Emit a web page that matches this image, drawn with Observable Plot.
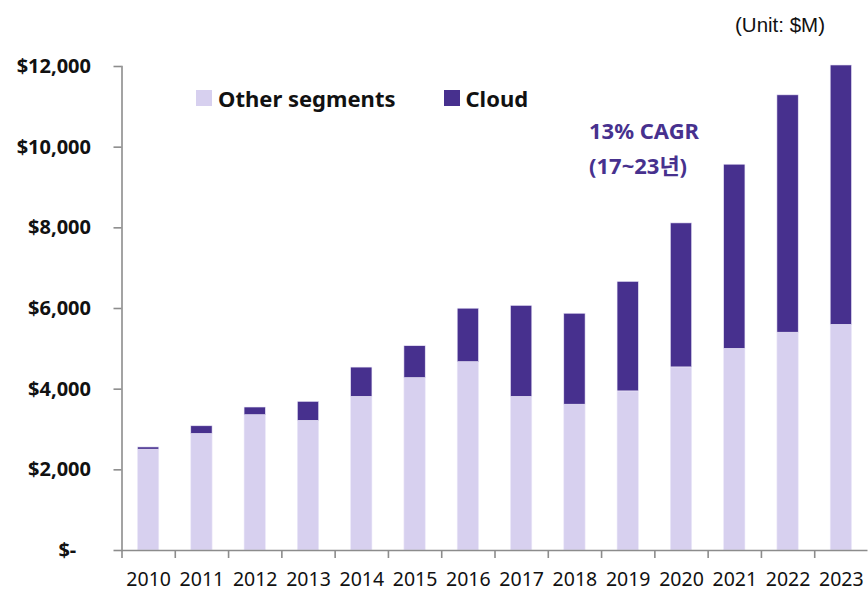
<!DOCTYPE html>
<html><head><meta charset="utf-8">
<script src="https://cdn.jsdelivr.net/npm/d3@7"></script>
<script src="https://cdn.jsdelivr.net/npm/@observablehq/plot@0.6"></script>
<style>
body{margin:0;background:#fff;}
#wrap{position:relative;width:868px;height:593px;font-family:"Noto Sans","Noto Sans CJK KR",sans-serif;overflow:hidden;}
.ov{position:absolute;white-space:nowrap;}
#unit{left:735px;top:11px;font-family:"Liberation Sans",Arial,sans-serif;font-size:20.5px;line-height:28px;color:#111;}
#legend{left:196px;top:83px;font-size:22px;font-weight:bold;color:#111;display:flex;align-items:center;line-height:30px;}
#legend .sw{display:inline-block;width:16px;height:16px;margin-right:6px;}
#legend .it{display:flex;align-items:center;margin-right:48px;}
#cagr{left:589px;top:113px;font-size:22px;font-weight:bold;color:#47318e;line-height:35px;}
</style></head><body><div id="wrap"></div>
<script>
const years = ["2010","2011","2012","2013","2014","2015","2016","2017","2018","2019","2020","2021","2022","2023"];
const otherSegments = [2500, 2890, 3355, 3215, 3810, 4275, 4670, 3810, 3615, 3945, 4540, 5000, 5400, 5595];
const cloud = [55, 190, 190, 470, 725, 790, 1325, 2255, 2255, 2715, 3570, 4565, 5885, 6430];
const seriesNames = ["Other segments", "Cloud"];
const seriesColors = ["#d7d0ef", "#47308e"];
const yTicks = [0, 2000, 4000, 6000, 8000, 10000, 12000];
const unitLabel = "(Unit: $M)";
const cagrLines = ["13% CAGR", "(17~23년)"];

const rows = [];
years.forEach((y, i) => rows.push({year: y, series: seriesNames[0], value: otherSegments[i]}));
years.forEach((y, i) => rows.push({year: y, series: seriesNames[1], value: cloud[i]}));

const W = 868, H = 593, mL = 121.5, mR = 0.5, mT = 66, mB = 43;
const step = (W - mL - mR) / years.length;
const axisColor = "#8c8c8c";
const fmt = d => d === 0 ? "$-\u2007\u2009" : "$" + d3.format(",")(d);

const chart = Plot.plot({
  width: W, height: H,
  marginLeft: mL, marginRight: mR, marginTop: mT, marginBottom: mB,
  style: {fontFamily: '"Noto Sans","Noto Sans CJK KR",sans-serif', background: "#fff", color: "#111"},
  x: {domain: years, paddingInner: 0.6, paddingOuter: 0.3, round: false, label: null},
  y: {domain: [0, 12000], label: null},
  color: {domain: seriesNames, range: seriesColors},
  marks: [
    Plot.barY(rows, {x: "year", y: "value", fill: "series", stroke: "#ece8f8", strokeWidth: 0.6, order: seriesNames}),
    Plot.frame({anchor: "left", stroke: axisColor, strokeWidth: 1.6}),
    Plot.ruleY([0], {stroke: axisColor, strokeWidth: 1.6}),
    Plot.axisY({ticks: yTicks, tickFormat: fmt, tickSize: 8, tickPadding: 23, stroke: axisColor, strokeWidth: 1.6,
      fontSize: 20, fontWeight: "bold", label: null}),
    Plot.axisX({tickSize: 8, dx: -step / 2, text: null, stroke: axisColor, strokeWidth: 1.6, label: null}),
    Plot.axisX({tickSize: 0, tickPadding: 22, fontSize: 19.5, label: null})
  ]
});

const wrap = document.getElementById("wrap");
wrap.appendChild(chart);

const unit = document.createElement("div");
unit.className = "ov"; unit.id = "unit"; unit.textContent = unitLabel;
wrap.appendChild(unit);

const legend = document.createElement("div");
legend.className = "ov"; legend.id = "legend";
seriesNames.forEach((n, i) => {
  const it = document.createElement("span"); it.className = "it";
  const sw = document.createElement("span"); sw.className = "sw"; sw.style.background = seriesColors[i];
  it.appendChild(sw); it.appendChild(document.createTextNode(n));
  legend.appendChild(it);
});
wrap.appendChild(legend);

const cagr = document.createElement("div");
cagr.className = "ov"; cagr.id = "cagr";
cagr.innerHTML = cagrLines.map(t => `<div>${t}</div>`).join("");
wrap.appendChild(cagr);
</script>
</body></html>
